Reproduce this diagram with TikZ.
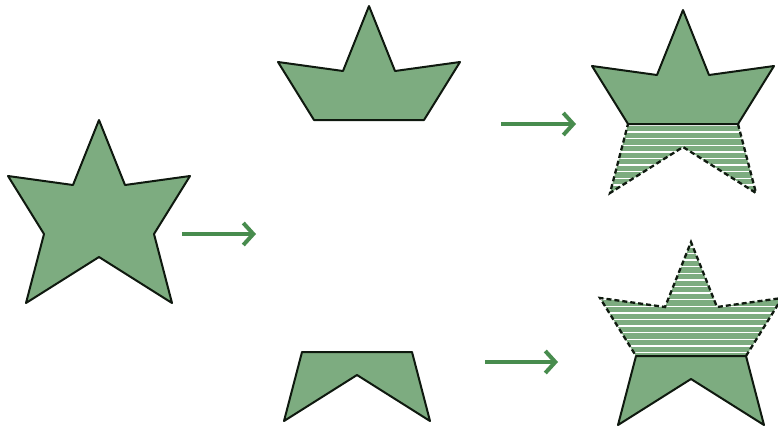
\documentclass[tikz,border=0pt]{standalone}
\usetikzlibrary{arrows.meta}
\definecolor{starfill}{RGB}{125,172,128}
\definecolor{arrowgreen}{RGB}{72,140,78}
\definecolor{edge}{RGB}{15,25,15}
\tikzset{
  solidpart/.style={fill=starfill, draw=edge, line width=2pt, line join=round},
  hatchedge/.style={draw=edge, line width=2.3pt, dash pattern=on 5pt off 3pt},
  stripe/.style={draw=white, line width=1.5pt},
  greenarrow/.style={draw=arrowgreen, line width=3.4pt, -{Straight Barb[length=10pt,width=22pt,line width=4pt]}}
}
\newcommand\mkstar[3]{%
  \begin{scope}[shift={(#2,#3)}]
    \coordinate (#1t) at (0,0);
    \coordinate (#1ur) at (26,65);
    \coordinate (#1or) at (91,56);
    \coordinate (#1ir) at (55,114);
    \coordinate (#1br) at (73,183);
    \coordinate (#1ib) at (0,137);
    \coordinate (#1bl) at (-73,183);
    \coordinate (#1il) at (-55,114);
    \coordinate (#1ol) at (-91,56);
    \coordinate (#1ul) at (-26,65);
  \end{scope}}
\begin{document}
\begin{tikzpicture}[x=1pt,y=-1pt]
\path[use as bounding box] (0,0) rectangle (778,429);
\clip (0,0) rectangle (778,429);
% coordinates
\mkstar{a}{99}{120}
\mkstar{b}{369}{6}
\mkstar{c}{357}{238}
\mkstar{d}{683}{10}
\mkstar{e}{691}{242}
% left whole star
\path[solidpart] (at) -- (aur) -- (aor) -- (air) -- (abr) -- (aib) -- (abl) -- (ail) -- (aol) -- (aul) -- cycle;
% top middle: upper part
\path[solidpart] (bt) -- (bur) -- (bor) -- (bir) -- (bil) -- (bol) -- (bul) -- cycle;
% bottom middle: lower part
\path[solidpart] (cil) -- (cir) -- (cbr) -- (cib) -- (cbl) -- cycle;
% right top: upper solid, lower hatched
\fill[starfill] (dil) -- (dir) -- (dbr) -- (dib) -- (dbl) -- cycle;
\begin{scope}
  \clip (dil) -- (dir) -- (dbr) -- (dib) -- (dbl) -- cycle;
  \foreach \k in {0,...,11} {
    \draw[stripe] (580,{125.5+6.6*\k}) -- (778,{125.5+6.6*\k});
  }
\end{scope}
\draw[hatchedge] (dir) -- (dbr) -- (dib) -- (dbl) -- (dil);
\path[solidpart] (dt) -- (dur) -- (dor) -- (dir) -- (dil) -- (dol) -- (dul) -- cycle;
% right bottom: upper hatched, lower solid
\fill[starfill] (et) -- (eur) -- (eor) -- (eir) -- (eil) -- (eol) -- (eul) -- cycle;
\begin{scope}
  \clip (et) -- (eur) -- (eor) -- (eir) -- (eil) -- (eol) -- (eul) -- cycle;
  \foreach \k in {0,...,18} {
    \draw[stripe] (580,{352.5-6.6*\k}) -- (790,{352.5-6.6*\k});
  }
\end{scope}
\draw[hatchedge] (eir) -- (eor) -- (eur) -- (et) -- (eul) -- (eol) -- (eil);
\path[solidpart] (eil) -- (eir) -- (ebr) -- (eib) -- (ebl) -- cycle;
% arrows
\coordinate (a1s) at (182,234); \coordinate (a1e) at (256,234);
\coordinate (a2s) at (501,124); \coordinate (a2e) at (576,124);
\coordinate (a3s) at (485,362); \coordinate (a3e) at (558,362);
\draw[greenarrow] (a1s) -- (a1e);
\draw[greenarrow] (a2s) -- (a2e);
\draw[greenarrow] (a3s) -- (a3e);
\end{tikzpicture}
\end{document}
